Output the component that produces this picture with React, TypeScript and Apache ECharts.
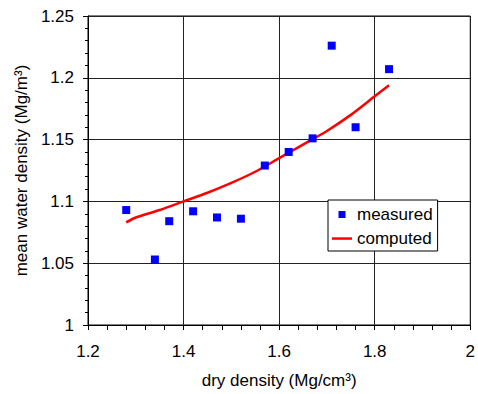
import React, { useEffect, useRef } from "react";
import * as echarts from "echarts";

const measuredX = [1.28, 1.34, 1.37, 1.42, 1.47, 1.52, 1.57, 1.62, 1.67, 1.71, 1.76, 1.83];
const measuredY = [1.093, 1.053, 1.084, 1.092, 1.087, 1.086, 1.129, 1.140, 1.151, 1.226, 1.160, 1.207];

const computedX = [1.28, 1.3, 1.35, 1.4, 1.45, 1.5, 1.55, 1.6, 1.65, 1.7, 1.75, 1.8, 1.83];
const computedY = [1.083, 1.087, 1.093, 1.1, 1.107, 1.115, 1.124, 1.135, 1.146, 1.157, 1.170, 1.185, 1.194];

const xTicks = { min: 1.2, max: 2, interval: 0.2 };
const yTicks = { min: 1, max: 1.25, interval: 0.05 };

const FONT = "'Liberation Sans', Arial, sans-serif";

export default function App() {
  const ref = useRef<HTMLDivElement>(null);
  useEffect(() => {
    if (!ref.current) return;
    const chart = echarts.init(ref.current, undefined, { renderer: "svg" });
    const fmt = (v: number) => String(+v.toFixed(2));
    chart.setOption({
      animation: false,
      backgroundColor: "#fff",
      textStyle: { fontFamily: FONT },
      grid: {
        left: 88,
        top: 16,
        right: 4,
        bottom: 69,
        show: true,
        borderColor: "#000",
        borderWidth: 1,
        backgroundColor: "transparent",
      },
      legend: {
        orient: "vertical",
        left: 328,
        top: 200,
        backgroundColor: "#fff",
        borderColor: "#000",
        borderWidth: 1,
        padding: [6, 5, 4, 4],
        itemWidth: 20,
        itemHeight: 7,
        itemGap: 7,
        textStyle: { fontSize: 17, color: "#000", fontFamily: FONT },
        data: [
          { name: "measured", icon: "path://M0,0M20,7M6.5,0h7v7h-7z", itemStyle: { color: "#0000ff", borderWidth: 0 } },
          { name: "computed", icon: "path://M0,0M20,7M0,2.3h20v2.5h-20z", itemStyle: { color: "#ff0000", borderWidth: 0 } },
        ],
      },
      xAxis: {
        type: "value",
        min: xTicks.min,
        max: xTicks.max,
        interval: xTicks.interval,
        name: "dry density (Mg/cm³)",
        nameLocation: "middle",
        nameGap: 47,
        nameTextStyle: { fontSize: 17, color: "#000", fontFamily: FONT },
        axisLine: { show: true, lineStyle: { color: "#000", width: 1 } },
        axisTick: { show: true, inside: false, length: 5, lineStyle: { color: "#000" } },
        minorTick: { show: true, splitNumber: 5, length: 5, lineStyle: { color: "#000" } },
        axisLabel: { fontSize: 17, color: "#000", margin: 18, formatter: fmt, fontFamily: FONT },
        splitLine: { show: true, lineStyle: { color: "#222", width: 1 } },
      },
      yAxis: {
        type: "value",
        min: yTicks.min,
        max: yTicks.max,
        interval: yTicks.interval,
        name: "mean water density (Mg/m³)",
        nameLocation: "middle",
        nameGap: 54,
        nameTextStyle: { fontSize: 17, color: "#000", fontFamily: FONT },
        axisLine: { show: true, lineStyle: { color: "#000", width: 1 } },
        axisTick: { show: true, inside: false, length: 5, lineStyle: { color: "#000" } },
        minorTick: { show: true, splitNumber: 5, length: 3, lineStyle: { color: "#000" } },
        axisLabel: { fontSize: 17, color: "#000", margin: 14, formatter: fmt, fontFamily: FONT },
        splitLine: { show: true, lineStyle: { color: "#222", width: 1 } },
      },
      series: [
        {
          name: "measured",
          type: "scatter",
          symbol: "rect",
          symbolSize: 8,
          itemStyle: { color: "#0000ff", opacity: 1 },
          data: measuredX.map((x, i) => [x, measuredY[i]]),
          z: 3,
        },
        {
          name: "computed",
          type: "line",
          smooth: 0.3,
          showSymbol: false,
          symbol: "none",
          lineStyle: { color: "#ff0000", width: 2.5 },
          itemStyle: { color: "#ff0000" },
          data: computedX.map((x, i) => [x, computedY[i]]),
          z: 2,
        },
      ],
    });
    return () => chart.dispose();
  }, []);
  return <div ref={ref} style={{ width: 478, height: 394, position: "absolute", left: 0, top: 0 }} />;
}
